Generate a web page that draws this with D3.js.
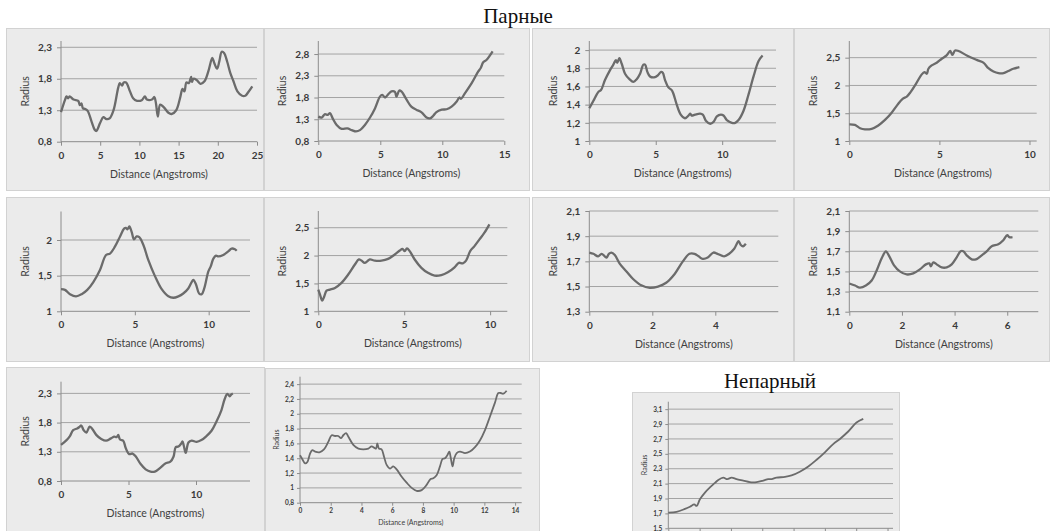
<!DOCTYPE html>
<html><head><meta charset="utf-8">
<script src="https://cdn.jsdelivr.net/npm/d3@7"></script>
<style>
html,body{margin:0;padding:0;background:#fff;}
svg{display:block;}
</style></head><body>
<svg id="fig" width="1050" height="531"></svg>
<script>
// ---- pore radius profiles: distance along the channel (Å) vs radius ----
const p1Dist = [0,0.5,0.7,0.9,1.1,1.6,2.2,2.4,2.6,2.8,3.1,3.4,3.9,4.3,4.5,5.0,5.4,5.8,6.2,6.7,7.3,7.5,7.8,8.0,8.3,8.8,9.2,9.7,10.3,10.7,10.95,11.6,11.9,12.1,12.35,12.65,13.1,13.7,14.1,14.7,15.2,15.5,15.75,16.0,16.3,16.6,16.7,16.9,17.3,17.8,18.3,18.8,19.3,19.55,19.9,20.2,20.5,20.8,21.2,21.6,22.0,22.5,23.1,23.5,23.9,24.4];
const p1Radius = [1.27,1.46,1.52,1.49,1.52,1.47,1.45,1.38,1.41,1.33,1.32,1.29,1.12,0.99,0.97,1.10,1.19,1.16,1.17,1.30,1.66,1.73,1.69,1.74,1.74,1.60,1.49,1.45,1.46,1.52,1.47,1.47,1.51,1.42,1.20,1.39,1.35,1.26,1.24,1.30,1.50,1.64,1.60,1.74,1.73,1.83,1.75,1.80,1.78,1.72,1.76,1.92,2.13,2.05,1.96,2.08,2.23,2.21,2.07,1.89,1.76,1.60,1.53,1.53,1.59,1.68];

const p2Dist = [0,0.27,0.54,0.75,0.94,1.16,1.48,1.88,2.34,2.7,3.04,3.36,3.76,4.17,4.57,4.97,5.16,5.38,5.65,5.9,6.18,6.3,6.53,6.7,7.12,7.5,7.9,8.33,8.73,9.0,9.27,9.5,9.95,10.35,10.75,11.16,11.37,11.5,11.83,12.37,12.9,13.1,13.3,13.58,14.06];
const p2Radius = [1.36,1.34,1.42,1.40,1.44,1.32,1.17,1.08,1.09,1.05,1.02,1.05,1.17,1.34,1.55,1.82,1.86,1.80,1.88,1.94,1.93,1.82,1.96,1.94,1.75,1.59,1.52,1.46,1.34,1.32,1.38,1.46,1.52,1.53,1.59,1.71,1.80,1.77,1.90,2.13,2.40,2.48,2.61,2.67,2.86];

const p3Dist = [0,0.3,0.68,0.88,1.18,1.56,1.81,2.0,2.1,2.26,2.44,2.69,3.02,3.32,3.57,3.82,4.07,4.2,4.37,4.57,4.87,5.15,5.4,5.53,5.7,5.95,6.2,6.33,6.58,6.88,7.2,7.46,7.6,7.7,7.96,8.34,8.54,8.79,9.1,9.35,9.6,9.9,10.1,10.35,10.73,10.98,11.23,11.6,11.98,12.36,12.74,13.04];
const p3Radius = [1.36,1.44,1.54,1.56,1.67,1.78,1.84,1.89,1.86,1.91,1.85,1.74,1.68,1.65,1.68,1.74,1.84,1.84,1.76,1.71,1.70,1.72,1.76,1.75,1.67,1.59,1.56,1.52,1.40,1.29,1.25,1.28,1.30,1.28,1.29,1.30,1.29,1.22,1.19,1.21,1.27,1.29,1.28,1.23,1.20,1.20,1.23,1.33,1.51,1.71,1.88,1.94];

const p4Dist = [0,0.31,0.6,0.87,1.24,1.61,1.98,2.35,2.67,2.96,3.19,3.4,3.7,4.0,4.17,4.3,4.39,4.57,4.85,5.13,5.4,5.6,5.72,5.87,6.06,6.52,7.07,7.44,7.72,8.0,8.28,8.56,8.83,9.1,9.44];
const p4Radius = [1.30,1.29,1.23,1.21,1.22,1.28,1.38,1.51,1.65,1.76,1.80,1.88,2.03,2.19,2.24,2.21,2.30,2.36,2.41,2.48,2.54,2.62,2.55,2.63,2.62,2.54,2.46,2.41,2.31,2.25,2.22,2.22,2.26,2.30,2.33];

const p5Dist = [0,0.27,0.61,1.02,1.4,1.78,2.19,2.64,3.05,3.32,3.66,4.0,4.27,4.4,4.5,4.63,4.79,4.94,5.12,5.3,5.58,5.91,6.37,6.82,7.27,7.61,7.95,8.28,8.62,8.85,8.96,9.14,9.35,9.53,9.7,9.98,10.14,10.32,10.5,10.65,10.99,11.33,11.56,11.78,11.9];
const p5Radius = [1.31,1.30,1.24,1.21,1.24,1.30,1.41,1.58,1.79,1.81,1.91,2.05,2.16,2.17,2.15,2.19,2.11,2.01,2.05,2.04,1.93,1.72,1.49,1.31,1.21,1.19,1.21,1.25,1.32,1.41,1.44,1.38,1.25,1.24,1.32,1.56,1.63,1.74,1.78,1.77,1.79,1.84,1.88,1.87,1.85];

const p6Dist = [0,0.1,0.23,0.35,0.48,0.68,0.97,1.35,1.74,2.13,2.36,2.51,2.7,2.86,3.0,3.29,3.68,4.06,4.45,4.74,4.9,5.03,5.16,5.32,5.61,6.0,6.38,6.77,7.16,7.54,7.93,8.18,8.41,8.6,8.84,9.09,9.38,9.67,9.96];
const p6Radius = [1.39,1.30,1.19,1.27,1.37,1.39,1.42,1.51,1.66,1.84,1.93,1.91,1.87,1.90,1.93,1.91,1.91,1.94,2.02,2.09,2.12,2.08,2.13,2.08,1.93,1.78,1.69,1.64,1.65,1.70,1.79,1.87,1.86,1.91,2.08,2.17,2.29,2.41,2.56];

const p7Dist = [0,0.13,0.28,0.39,0.49,0.55,0.62,0.7,0.81,0.97,1.18,1.39,1.65,1.92,2.18,2.44,2.71,2.97,3.18,3.34,3.47,3.6,3.76,3.94,4.07,4.28,4.44,4.6,4.74,4.81,4.88,4.97];
const p7Radius = [1.77,1.76,1.74,1.76,1.74,1.73,1.76,1.77,1.75,1.68,1.62,1.56,1.51,1.49,1.50,1.53,1.60,1.70,1.76,1.76,1.74,1.72,1.73,1.77,1.76,1.74,1.76,1.80,1.86,1.83,1.82,1.84];

const p8Dist = [0,0.22,0.4,0.63,0.85,1.04,1.23,1.39,1.52,1.7,1.92,2.18,2.43,2.68,2.91,3.04,3.1,3.19,3.32,3.51,3.7,3.89,4.08,4.23,4.33,4.46,4.65,4.81,5.03,5.22,5.41,5.66,5.85,6.0,6.08,6.2];
const p8Radius = [1.38,1.36,1.34,1.36,1.41,1.51,1.63,1.70,1.65,1.56,1.50,1.47,1.48,1.52,1.57,1.58,1.55,1.59,1.57,1.54,1.54,1.57,1.64,1.70,1.70,1.66,1.62,1.62,1.66,1.70,1.75,1.77,1.81,1.86,1.84,1.84];

const p9Dist = [0,0.41,0.66,0.9,1.2,1.39,1.5,1.68,1.88,2.12,2.32,2.61,2.98,3.34,3.7,3.95,4.12,4.24,4.37,4.61,4.8,5.05,5.3,5.54,5.9,6.27,6.63,6.95,7.37,7.73,8.1,8.34,8.5,8.7,8.9,9.0,9.1,9.24,9.44,9.68,10.05,10.4,10.78,11.15,11.5,11.88,12.12,12.32,12.5,12.6,12.73];
const p9Radius = [1.42,1.50,1.57,1.67,1.70,1.73,1.75,1.67,1.63,1.73,1.69,1.59,1.52,1.49,1.53,1.56,1.55,1.59,1.51,1.49,1.36,1.26,1.27,1.22,1.09,1.00,0.96,0.96,1.03,1.10,1.13,1.22,1.38,1.39,1.44,1.48,1.40,1.28,1.46,1.49,1.47,1.50,1.57,1.66,1.81,2.01,2.20,2.29,2.25,2.28,2.30];

const p10Dist = [0,0.17,0.33,0.48,0.65,0.8,0.98,1.26,1.56,1.84,2.06,2.28,2.49,2.67,2.82,3.0,3.15,3.47,3.8,4.12,4.45,4.66,4.84,4.95,5.03,5.14,5.31,5.47,5.64,5.86,6.07,6.29,6.62,6.94,7.27,7.59,7.92,8.24,8.5,8.68,8.89,9.11,9.28,9.44,9.59,9.72,9.8,9.93,10.04,10.2,10.41,10.74,11.06,11.39,11.71,12.04,12.36,12.69,12.91,13.06,13.23,13.45];
const p10Radius = [1.44,1.38,1.33,1.35,1.46,1.51,1.49,1.48,1.52,1.62,1.71,1.70,1.70,1.67,1.71,1.74,1.69,1.58,1.53,1.52,1.53,1.56,1.54,1.53,1.60,1.53,1.52,1.42,1.31,1.26,1.29,1.25,1.15,1.07,1.00,0.96,0.97,1.04,1.12,1.13,1.17,1.29,1.39,1.40,1.44,1.49,1.42,1.29,1.40,1.47,1.49,1.47,1.49,1.55,1.64,1.78,1.96,2.15,2.28,2.28,2.27,2.31];

const uDist = [0,0.53,1.06,1.38,1.66,1.81,2.02,2.34,2.66,2.98,3.19,3.51,3.77,4.04,4.36,4.79,5.21,5.64,6.06,6.38,6.6,6.91,7.45,7.87,8.4,8.94,9.47,10.0,10.53,10.96,11.49,12.02,12.45];
const uRadius = [1.71,1.72,1.76,1.79,1.82,1.80,1.89,1.98,2.05,2.11,2.15,2.18,2.16,2.18,2.16,2.14,2.12,2.12,2.14,2.16,2.16,2.18,2.19,2.21,2.26,2.33,2.42,2.52,2.63,2.70,2.80,2.92,2.97];

// tick values
const ticksX25 = [0,5,10,15,20,25];
const ticksX15 = [0,5,10,15];
const ticksX10 = [0,5,10];
const ticksX4 = [0,2,4];
const ticksX6 = [0,2,4,6];
const ticksX14 = [0,2,4,6,8,10,12,14];
const ticksY08_23 = [0.8,1.3,1.8,2.3];
const ticksY08_28 = [0.8,1.3,1.8,2.3,2.8];
const ticksY1_2 = [1,1.2,1.4,1.6,1.8,2];
const ticksY1_25 = [1,1.5,2,2.5];
const ticksY1_2b = [1,1.5,2];
const ticksY13_21 = [1.3,1.5,1.7,1.9,2.1];
const ticksY11_21 = [1.1,1.3,1.5,1.7,1.9,2.1];
const ticksY08_24 = [0.8,1,1.2,1.4,1.6,1.8,2,2.2,2.4];
const ticksY15_31 = [1.5,1.7,1.9,2.1,2.3,2.5,2.7,2.9,3.1];

const groupTitles = ["Парные", "Непарный"];
const xTitle = "Distance (Angstroms)";
const yTitle = "Radius";

// ---- panel layout ----
const big = {tick: 10, title: 10.5, tickLen: 4, yPad: 5, xLab: 17, xTitle: 36, yTitleOff: 32, stroke: 2.3};
const small = {tick: 6.5, title: 7, tickLen: 3, yPad: 3, xLab: 10, xTitle: 22, yTitleOff: 21, stroke: 1.8};

const panels = [
  {box:[6,28,258,163], pl:61, pr:257, pt:41, pb:141.7, xd:[0,25], yd:[0.8,2.4], xt:ticksX25, yt:ticksY08_23, dist:p1Dist, rad:p1Radius, st:big},
  {box:[264,28,266,163], pl:318.3, pr:504.3, pt:41, pb:141, xd:[0,15], yd:[0.8,3.1], xt:ticksX15, yt:ticksY08_28, dist:p2Dist, rad:p2Radius, st:big},
  {box:[532,28,262,163], pl:589.3, pr:776, pt:41, pb:141, xd:[0,14.05], yd:[1,2.1], xt:ticksX10, yt:ticksY1_2, dist:p3Dist, rad:p3Radius, st:big},
  {box:[794,28,256,163], pl:849.3, pr:1036.7, pt:41, pb:141, xd:[0,10.4], yd:[1,2.8], xt:ticksX10, yt:ticksY1_25, dist:p4Dist, rad:p4Radius, st:big},
  {box:[6,197,258,165], pl:61, pr:250, pt:211.5, pb:311.3, xd:[0,12.8], yd:[1,2.4], xt:ticksX10, yt:ticksY1_2b, dist:p5Dist, rad:p5Radius, st:big},
  {box:[264,197,266,165], pl:318.3, pr:507.3, pt:211, pb:311.3, xd:[0,11], yd:[1,2.8], xt:ticksX10, yt:ticksY1_25, dist:p6Dist, rad:p6Radius, st:big},
  {box:[532,197,262,165], pl:589.3, pr:778.3, pt:211, pb:311.7, xd:[0,6], yd:[1.3,2.1], xt:ticksX4, yt:ticksY13_21, dist:p7Dist, rad:p7Radius, st:big},
  {box:[794,197,256,165], pl:849.3, pr:1038.3, pt:211, pb:311.7, xd:[0,7.18], yd:[1.1,2.1], xt:ticksX6, yt:ticksY11_21, dist:p8Dist, rad:p8Radius, st:big},
  {box:[6,367,259,170], pl:61, pr:250, pt:381.7, pb:481, xd:[0,14], yd:[0.8,2.5], xt:ticksX10, yt:ticksY08_23, dist:p9Dist, rad:p9Radius, st:big},
  {box:[265,368,275,170], pl:300, pr:521.7, pt:376.7, pb:502.7, xd:[0,14.43], yd:[0.8,2.5], xt:ticksX14, yt:ticksY08_24, dist:p10Dist, rad:p10Radius, st:small},
  {box:[632,392,268,150], pl:668.3, pr:893, pt:401.7, pb:528.3, xd:[0,14.35], yd:[1.5,3.2], xt:ticksX14, yt:ticksY15_31, dist:uDist, rad:uRadius, st:small, noXLabels:true}
];

const svg = d3.select("#fig");
const fmt = d => String(+d.toFixed(2)).replace(".", ",");
const font = "Lato, 'Open Sans', sans-serif";

panels.forEach(p => {
  const g = svg.append("g");
  const [bx, by, bw, bh] = p.box;
  // chart area
  g.append("rect").attr("x", bx + 0.5).attr("y", by + 0.5).attr("width", bw - 1).attr("height", bh - 1)
    .attr("fill", "#ebebeb").attr("stroke", "#d2d2d2");

  const x = d3.scaleLinear().domain(p.xd).range([p.pl, p.pr]);
  const y = d3.scaleLinear().domain(p.yd).range([p.pb, p.pt]);

  // horizontal gridlines
  g.append("g").selectAll("line").data(p.yt.filter(v => v > p.yd[0])).join("line")
    .attr("x1", p.pl).attr("x2", p.pr)
    .attr("y1", d => y(d)).attr("y2", d => y(d))
    .attr("stroke", "#a3a3a3").attr("stroke-width", 1);

  const st = p.st;
  const xAxis = d3.axisBottom(x).tickValues(p.xt).tickSize(st.tickLen).tickSizeOuter(0)
    .tickPadding(st.xLab - st.tickLen - st.tick * 0.7).tickFormat(d => p.noXLabels ? "" : fmt(d));
  const gx = g.append("g").attr("transform", `translate(0,${p.pb})`).call(xAxis);
  const yAxis = d3.axisLeft(y).tickValues(p.yt).tickSize(st.tickLen).tickSizeOuter(0)
    .tickPadding(st.yPad).tickFormat(fmt);
  const gy = g.append("g").attr("transform", `translate(${p.pl},0)`).call(yAxis);

  [gx, gy].forEach(a => {
    a.select(".domain").attr("stroke", "#8c8c8c");
    a.selectAll(".tick line").attr("stroke", "#8c8c8c");
    a.selectAll(".tick text").attr("fill", "#3a3a3a").style("font-family", font)
      .style("font-size", st.tick + "px").style("font-weight", "bold");
  });
  gx.select(".domain").attr("d", `M${p.pl},0H${p.pr}`);
  gy.select(".domain").attr("d", `M0,${p.pb}V${p.pt}`);

  if (!p.noXLabels) {
    g.append("text").attr("x", (p.pl + p.pr) / 2).attr("y", p.pb + st.xTitle)
      .attr("text-anchor", "middle").attr("fill", "#404040")
      .style("font-family", font).style("font-size", st.title + "px").text(xTitle);
  }
  g.append("text")
    .attr("transform", `translate(${p.pl - st.yTitleOff},${(p.pt + p.pb) / 2}) rotate(-90)`)
    .attr("text-anchor", "middle").attr("fill", "#404040")
    .style("font-family", font).style("font-size", st.title + "px").text(yTitle);

  // radius profile
  const pts = p.dist.map((d, i) => [d, p.rad[i]]);
  g.append("path").datum(pts)
    .attr("fill", "none").attr("stroke", "#6b6b6b")
    .attr("stroke-width", st.stroke).attr("stroke-linejoin", "round")
    .attr("d", d3.line().x(d => x(d[0])).y(d => y(d[1])).curve(d3.curveCatmullRom.alpha(0.5)));
});

// group headings
svg.append("text").attr("x", 518).attr("y", 23).attr("text-anchor", "middle")
  .style("font-family", "'Liberation Serif', 'DejaVu Serif', serif").style("font-size", "21px")
  .attr("fill", "#111").text(groupTitles[0]);
svg.append("text").attr("x", 770).attr("y", 388).attr("text-anchor", "middle")
  .style("font-family", "'Liberation Serif', 'DejaVu Serif', serif").style("font-size", "21px")
  .attr("fill", "#111").text(groupTitles[1]);
</script>
</body></html>
